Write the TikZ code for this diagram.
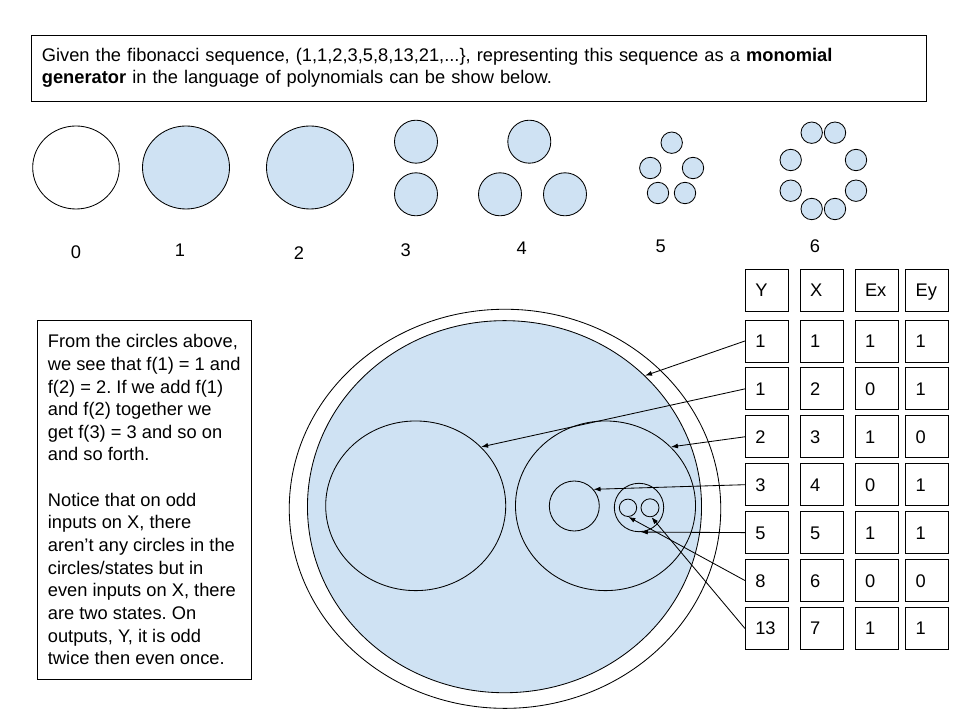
\documentclass[tikz,border=0pt]{standalone}
\usepackage{fontspec}
\setmainfont{Liberation Sans}
\usetikzlibrary{positioning}
\usetikzlibrary{arrows.meta}
\usetikzlibrary{shapes.geometric}
\definecolor{fibblue}{HTML}{CFE2F3}
\frenchspacing
\tikzset{
    blob/.style={ellipse, draw=black, inner sep=0pt},
    filledblob/.style={blob, fill=fibblue},
    cell/.style={rectangle, draw=black, minimum width=1.075cm, minimum height=1.05cm, inner xsep=0.25cm, text width=0.575cm, text height=9.3pt, text depth=0pt, align=left},
    textbox/.style={rectangle, draw=black, align=left}
}

\begin{document}
\begin{tikzpicture}[x=0.025cm, y=-0.025cm, line width=0.6pt, >={Latex[length=5pt,width=3.5pt]},
    font=\fontsize{13pt}{16.1pt}\selectfont]
    \useasboundingbox (0,0) rectangle (960,720);
    \node (intro) [textbox, minimum width=22.35cm, minimum height=1.65cm, inner xsep=0.25cm, text width=21.85cm] at (479,68) {
        Given the fibonacci sequence, (1,1,2,3,5,8,13,21,...\}, representing this sequence as a \textbf{monomial}\\
        \textbf{generator} in the language of polynomials can be show below.
    };
    % the first generations
    \node (c0) [blob, fill=white, minimum width=2.165cm, minimum height=2.075cm] at (76,167.5) {};
    \node (c1) [filledblob, minimum width=2.175cm, minimum height=2.075cm] at (186,167.5) {};
    \node (c2) [filledblob, minimum width=2.175cm, minimum height=2.075cm] at (310,167.5) {};
    \node (c3a) [filledblob, minimum size=1.075cm] at (416,141.7) {};
    \node (c3b) [filledblob, minimum size=1.075cm] at (416,194.3) {};
    \node (c4a) [filledblob, minimum size=1.075cm] at (529.3,141.7) {};
    \node (c4b) [filledblob, minimum size=1.075cm] at (500,194.3) {};
    \node (c4c) [filledblob, minimum size=1.075cm] at (565,194.3) {};
    \node (c5a) [filledblob, minimum size=0.535cm] at (671.7,142.7) {};
    \node (c5b) [filledblob, minimum size=0.535cm] at (650.3,168) {};
    \node (c5c) [filledblob, minimum size=0.535cm] at (693,168) {};
    \node (c5d) [filledblob, minimum size=0.535cm] at (658,193) {};
    \node (c5e) [filledblob, minimum size=0.535cm] at (685,193) {};
    \node (c6a) [filledblob, minimum size=0.535cm] at (811.7,132.7) {};
    \node (c6b) [filledblob, minimum size=0.535cm] at (835,132.7) {};
    \node (c6c) [filledblob, minimum size=0.535cm] at (790.7,160) {};
    \node (c6d) [filledblob, minimum size=0.535cm] at (856,160) {};
    \node (c6e) [filledblob, minimum size=0.535cm] at (790.7,190.7) {};
    \node (c6f) [filledblob, minimum size=0.535cm] at (856,190.7) {};
    \node (c6g) [filledblob, minimum size=0.535cm] at (811.7,209) {};
    \node (c6h) [filledblob, minimum size=0.535cm] at (835,209) {};
    \node (l0) at (76,252) {0};
    \node (l1) at (180,250) {1};
    \node (l2) at (299,252.7) {2};
    \node (l3) at (405.7,250) {3};
    \node (l4) at (521.7,248.3) {4};
    \node (l5) at (660.7,246) {5};
    \node (l6) at (815,246) {6};
    % explanation
    \node (note) [textbox, minimum width=5.34cm, minimum height=8.98cm] at (144.2,499.7) {
        From the circles above,\\
        we see that f(1) = 1 and\\
        f(2) = 2. If we add f(1)\\
        and f(2) together we\\
        get f(3) = 3 and so on\\
        and so forth.\\[16.1pt]
        Notice that on odd\\
        inputs on X, there\\
        aren’t any circles in the\\
        circles/states but in\\
        even inputs on X, there\\
        are two states. On\\
        outputs, Y, it is odd\\
        twice then even once.
    };
    % nested states
    \node (outer) [blob, fill=white, minimum width=10.785cm, minimum height=9.975cm] at (505,508.8) {};
    \node (whole) [filledblob, minimum width=9.85cm, minimum height=9.3cm] at (504.5,506.7) {};
    \node (left) [blob, minimum width=4.5cm, minimum height=4.24cm] at (415.7,505.8) {};
    \node (right) [blob, minimum width=4.5cm, minimum height=4.24cm] at (605.5,505.8) {};
    \node (small) [blob, minimum size=1.25cm] at (574.3,506) {};
    \node (pair) [blob, minimum width=1.235cm, minimum height=1.21cm] at (639,507.5) {};
    \node (tinyl) [blob, minimum size=0.435cm] at (628,507.8) {};
    \node (tinyr) [blob, minimum size=0.45cm] at (650,507.8) {};
    % table
    \node (hy) [cell] at (766.8,290) {Y};
    \node (hx) [cell, right=0.275cm of hy] {X};
    \node (hex) [cell, right=0.275cm of hx] {Ex};
    \node (hey) [cell, right=0.17cm of hex] {Ey};
    \foreach \yv/\xv/\exv/\eyv [count=\i] in {1/1/1/1, 1/2/0/1, 2/3/1/0, 3/4/0/1, 5/5/1/1, 8/6/0/0, 13/7/1/1} {
        \node (y\i) [cell] at (766.8,{341+47.9*(\i-1)}) {\yv};
        \node (x\i) [cell, right=0.275cm of y\i] {\xv};
        \node (ex\i) [cell, right=0.275cm of x\i] {\exv};
        \node (ey\i) [cell, right=0.17cm of ex\i] {\eyv};
    }
    \draw [->] (y1.west) -- (whole.43);
    \draw [->] (y2.west) -- (left.42.6);
    \draw [->] (y3.west) -- (right.42.7);
    \draw [->] (y4.west) -- (small.41.8);
    \draw [->] (y5.west) -- (pair.-86);
    \draw [->] (y6.west) -- (tinyl.-88);
    \draw [->] (y7.west) -- (tinyr.-81);
\end{tikzpicture}
\end{document}
